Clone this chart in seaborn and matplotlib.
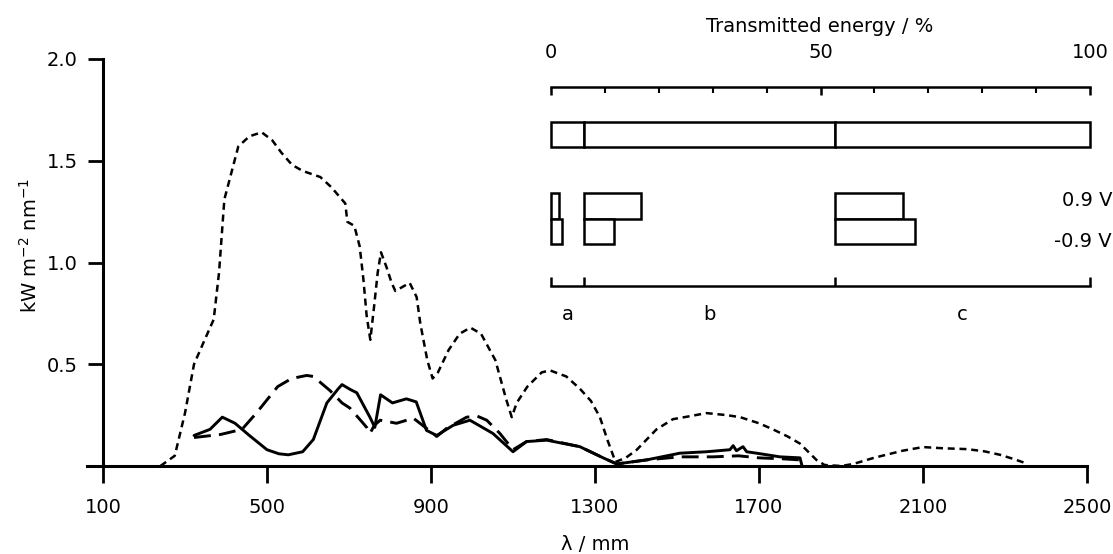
import numpy as np
import pandas as pd
import matplotlib
matplotlib.use('Agg')
import matplotlib.pyplot as plt
import seaborn as sns

# Spectra (wavelength / nm, irradiance / kW m-2 nm-1)
wl_sun = [240, 275, 300, 322, 348, 370, 383, 396, 413, 430, 457, 487, 513, 535,
          561, 587, 630, 657, 674, 691, 696, 713, 726, 735, 743, 752, 761, 770,
          778, 791, 804, 813, 848, 865, 874, 891, 904, 917, 943, 970, 996, 1022,
          1057, 1083, 1097, 1109, 1135, 1170, 1190, 1230, 1263, 1290, 1312, 1330,
          1350, 1375, 1402, 1450, 1490, 1532, 1572, 1621, 1654, 1700, 1734, 1770,
          1800, 1820, 1840, 1860, 1900, 1930, 1980, 2050, 2100, 2150, 2207, 2250,
          2288, 2320, 2353]
irr_sun = [0.00, 0.05, 0.26, 0.50, 0.62, 0.72, 0.95, 1.31, 1.44, 1.57, 1.62, 1.64,
           1.60, 1.54, 1.48, 1.45, 1.42, 1.37, 1.33, 1.29, 1.20, 1.18, 1.08, 0.92,
           0.74, 0.62, 0.78, 0.95, 1.05, 0.98, 0.90, 0.86, 0.90, 0.83, 0.70, 0.52,
           0.43, 0.46, 0.57, 0.65, 0.68, 0.65, 0.52, 0.33, 0.24, 0.31, 0.39, 0.46,
           0.47, 0.44, 0.38, 0.32, 0.24, 0.13, 0.02, 0.04, 0.08, 0.18, 0.23, 0.245,
           0.26, 0.25, 0.24, 0.21, 0.18, 0.145, 0.11, 0.07, 0.03, 0.005, 0.0, 0.01,
           0.04, 0.075, 0.093, 0.087, 0.083, 0.072, 0.055, 0.035, 0.012]

wl_neg = [322, 387, 439, 474, 526, 560, 597, 613, 654, 683, 702, 726, 743, 751,
          762, 776, 816, 857, 889, 914, 938, 987, 1013, 1036, 1068, 1100, 1133,
          1182, 1263, 1320, 1353, 1426, 1507, 1588, 1650, 1700, 1760, 1800]
irr_neg = [0.14, 0.155, 0.18, 0.26, 0.39, 0.43, 0.445, 0.44, 0.37, 0.31, 0.285,
           0.23, 0.19, 0.16, 0.20, 0.225, 0.21, 0.235, 0.185, 0.145, 0.185, 0.24,
           0.245, 0.225, 0.16, 0.08, 0.12, 0.13, 0.095, 0.04, 0.01, 0.03, 0.045,
           0.045, 0.05, 0.04, 0.035, 0.03]

wl_pos = [322, 361, 391, 422, 457, 500, 529, 552, 587, 613, 646, 674, 683, 704,
          719, 735, 751, 763, 777, 806, 840, 864, 889, 914, 954, 995, 1051, 1100,
          1133, 1182, 1263, 1320, 1353, 1426, 1507, 1572, 1629, 1637, 1645, 1661,
          1670, 1694, 1751, 1800, 1805]
irr_pos = [0.15, 0.18, 0.24, 0.21, 0.15, 0.08, 0.06, 0.055, 0.07, 0.13, 0.31,
           0.38, 0.40, 0.375, 0.36, 0.30, 0.24, 0.19, 0.35, 0.31, 0.33, 0.315,
           0.175, 0.15, 0.20, 0.225, 0.16, 0.07, 0.12, 0.127, 0.095, 0.04, 0.01,
           0.03, 0.063, 0.07, 0.08, 0.10, 0.075, 0.095, 0.07, 0.063, 0.045, 0.04,
           0.0]

x_ticks = [100, 500, 900, 1300, 1700, 2100, 2500]
y_ticks = [0.5, 1.0, 1.5, 2.0]

# Transmitted energy (%) in bands a, b, c
bands = ['a', 'b', 'c']
share_total = [6.1, 46.6, 47.3]
share_pos = [1.5, 10.6, 12.6]
share_neg = [2.0, 5.6, 14.8]
voltages = ['0.9 V', '-0.9 V']

sns.set_style('ticks')
plt.rcParams['font.family'] = ['DejaVu Sans']
plt.rcParams['font.size'] = 14
plt.rcParams['mathtext.default'] = 'regular'
for key in ['text.color', 'axes.labelcolor', 'xtick.color', 'ytick.color']:
    plt.rcParams[key] = 'black'

W, H = 1113, 554
fig = plt.figure(figsize=(W / 100, H / 100), dpi=100)


def box(x0, y0, x1, y1):
    # pixel box (from top-left) -> figure fraction rect
    return [x0 / W, 1 - y1 / H, (x1 - x0) / W, (y1 - y0) / H]


# Main spectrum plot
ax = fig.add_axes(box(87, 59, 1087, 466))
sun = pd.DataFrame({'wl': wl_sun, 'E': irr_sun})
neg = pd.DataFrame({'wl': wl_neg, 'E': irr_neg})
pos = pd.DataFrame({'wl': wl_pos, 'E': irr_pos})
sns.lineplot(data=sun, x='wl', y='E', ax=ax, color='black', lw=1.8,
             linestyle=(0, (2.8, 1.9)), clip_on=False)
sns.lineplot(data=neg, x='wl', y='E', ax=ax, color='black', lw=2.1,
             linestyle=(0, (5.8, 2.8)), clip_on=False)
sns.lineplot(data=pos, x='wl', y='E', ax=ax, color='black', lw=2.1,
             clip_on=False)

sns.despine(ax=ax)
ax.set_xlim(61, 2500)
ax.set_ylim(0, 2.0)
ax.spines['left'].set_position(('data', 100))
ax.spines['left'].set_bounds(0, 2.0)
for s in ['left', 'bottom']:
    ax.spines[s].set_linewidth(2.2)
    ax.spines[s].set_color('black')
ax.set_xticks(x_ticks)
ax.set_yticks(y_ticks)
ax.tick_params(axis='x', length=12, width=2, pad=11, colors='black')
ax.tick_params(axis='y', length=11, width=2, pad=7, colors='black')
ax.set_xlabel('λ / mm')
ax.set_ylabel('')
ax.xaxis.set_label_coords(0.508, -0.194)
ax.xaxis.label.set_va('center')
fig.text(30 / W, 1 - 245 / H, 'kW m$^{-2}$ nm$^{-1}$', rotation=90,
         ha='center', va='center')

# Inset: transmitted energy bars
lefts = np.concatenate([[0], np.cumsum(share_total)[:-1]])
edges = np.concatenate([[0], np.cumsum(share_total)])
centers = lefts + np.array(share_total) / 2

ax_in = fig.add_axes(box(551, 100, 1090, 275))
ax_in.set_xlim(0, 100)
ax_in.set_ylim(275, 100)
ax_in.axis('off')
bar_kw = dict(color='white', edgecolor='black', lw=1.8, clip_on=False)
ax_in.barh(134.5, share_total, left=lefts, height=25, **bar_kw)
ax_in.barh(206, share_pos, left=lefts, height=25.5, **bar_kw)
ax_in.barh(231.5, share_neg, left=lefts, height=25.5, **bar_kw)
ax_in.text(104.1, 200, voltages[0], ha='right', va='center')
ax_in.text(104.1, 241, voltages[1], ha='right', va='center')

# percentage scale on top
ax_sc = fig.add_axes(box(551, 87, 1090, 100))
ax_sc.set_xlim(0, 100)
ax_sc.set_yticks([])
for s in ['left', 'right', 'bottom']:
    ax_sc.spines[s].set_visible(False)
ax_sc.spines['top'].set_linewidth(1.8)
ax_sc.spines['top'].set_color('black')
ax_sc.patch.set_alpha(0)
ax_sc.xaxis.tick_top()
ax_sc.set_xticks([0, 50, 100])
ax_sc.set_xticks(np.arange(0, 101, 10), minor=True)
ax_sc.tick_params(axis='x', which='major', direction='in', length=6, width=1.8,
                  pad=18, colors='black')
ax_sc.tick_params(axis='x', which='minor', direction='in', length=4, width=1.5,
                  colors='black')
fig.text(820 / W, 1 - 26 / H, 'Transmitted energy / %', ha='center', va='center')

# band bracket below
ax_br = fig.add_axes(box(551, 276, 1090, 286))
ax_br.set_xlim(0, 100)
ax_br.set_yticks([])
for s in ['left', 'right', 'top']:
    ax_br.spines[s].set_visible(False)
ax_br.spines['bottom'].set_linewidth(1.8)
ax_br.spines['bottom'].set_color('black')
ax_br.patch.set_alpha(0)
ax_br.set_xticks(edges)
ax_br.set_xticklabels([''] * len(edges))
ax_br.set_xticks(centers, minor=True)
ax_br.set_xticklabels(bands, minor=True)
ax_br.tick_params(axis='x', which='major', direction='in', length=6.5, width=1.8,
                  colors='black')
ax_br.tick_params(axis='x', which='minor', length=0, pad=14, colors='black')

fig.savefig('out.png', dpi=100)
